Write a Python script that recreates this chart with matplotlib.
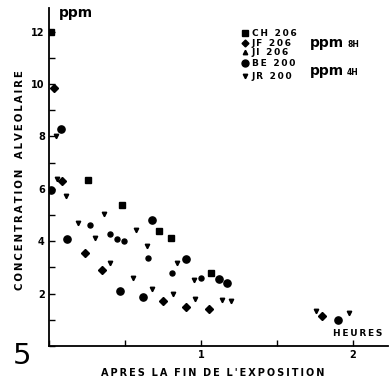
import matplotlib
matplotlib.use("Agg")
import matplotlib.pyplot as plt
from matplotlib.ticker import MultipleLocator

# data (hours after end of exposure, ppm)
ch_x = [0.01, 0.26, 0.48, 0.726, 0.80, 1.066]
ch_y = [12.0, 6.32, 5.39, 4.39, 4.11, 2.80]

jf_x = [0.03, 0.083, 0.237, 0.35, 0.748, 0.90, 1.05, 1.794]
jf_y = [9.85, 6.30, 3.54, 2.90, 1.73, 1.50, 1.40, 1.15]

ji_x = [0.27, 0.40, 0.445, 0.495, 0.653, 0.807, 1.0]
ji_y = [4.61, 4.28, 4.08, 3.99, 3.37, 2.78, 2.59]

be_x = [0.01, 0.077, 0.116, 0.467, 0.616, 0.675, 0.90, 1.118, 1.17, 1.90]
be_y = [5.96, 8.30, 4.09, 2.11, 1.88, 4.81, 3.32, 2.56, 2.40, 0.99]

jr_x = [0.046, 0.055, 0.11, 0.19, 0.30, 0.36, 0.40, 0.555, 0.57, 0.647, 0.68,
        0.818, 0.84, 0.956, 0.96, 1.136, 1.197, 1.757, 1.976]
jr_y = [8.0, 6.38, 5.73, 4.71, 4.12, 5.03, 3.16, 2.59, 4.43, 3.80, 2.16,
        1.99, 3.16, 2.52, 1.78, 1.76, 1.73, 1.34, 1.25]

legend_names = ["CH 206", "JF 206", "JI 206", "BE 200", "JR 200"]

def spaced(s):
    return "\u2009".join(s)

fig = plt.figure(figsize=(3.9, 3.85), dpi=100)
ax = fig.add_axes([0.1256, 0.1013, 0.869, 0.878])

series = [
    (ch_x, ch_y, "s", 4.3),
    (jf_x, jf_y, "D", 3.8),
    (ji_x, ji_y, "o", 3.6),
    (be_x, be_y, "o", 5.2),
    (jr_x, jr_y, "v", 3.2),
]
for xs, ys, m, ms in series:
    ax.plot(xs, ys, ls="none", marker=m, ms=ms, color="black", mec="black")

ax.set_xlim(0, 2.23)
ax.set_ylim(0, 12.9)
for s in ["top", "right"]:
    ax.spines[s].set_visible(False)
for s in ["left", "bottom"]:
    ax.spines[s].set_linewidth(1.3)

ax.xaxis.set_major_locator(MultipleLocator(1))
ax.xaxis.set_minor_locator(MultipleLocator(0.5))
ax.yaxis.set_major_locator(MultipleLocator(2))
ax.yaxis.set_minor_locator(MultipleLocator(1))
ax.tick_params(which="both", direction="in", width=1, length=4, labelsize=7, pad=3)
ax.set_xticks([1, 2])
ax.set_yticks([2, 4, 6, 8, 10, 12])
for lab in ax.get_xticklabels() + ax.get_yticklabels():
    lab.set_fontweight("bold")

ax.text(0.028, 0.985, "ppm", transform=ax.transAxes, fontsize=10, fontweight="bold",
        va="center", ha="left")
ax.text(0.91, 0.036, spaced("HEURES"), transform=ax.transAxes, fontsize=6.5,
        fontweight="bold", ha="center", va="center")

fig.text(0.052, 0.532, spaced("CONCENTRATION") + "   " + spaced("ALVEOLAIRE"),
         rotation=90, fontsize=7.3, fontweight="bold", ha="center", va="center")
fig.text(0.545, 0.031, spaced("APRES") + "  " + spaced("LA") + "  " + spaced("FIN")
         + "  " + spaced("DE") + "  " + spaced("L'EXPOSITION"),
         fontsize=7, fontweight="bold", ha="center", va="center")
fig.text(0.033, 0.075, "5", fontsize=21, ha="left", va="center")

# legend drawn by hand
leg_markers = [("s", 4.0), ("D", 3.5), ("^", 3.2), ("o", 5.0), ("v", 3.2)]
leg_y = [0.914, 0.888, 0.864, 0.836, 0.802]
for (m, ms), name, yy in zip(leg_markers, legend_names, leg_y):
    fig.lines.append(plt.Line2D([0.628], [yy], marker=m, ms=ms, color="black",
                                transform=fig.transFigure))
    fig.text(0.645, yy, spaced(name), fontsize=6.5, fontweight="bold", va="center")
fig.text(0.795, 0.889, "ppm", fontsize=10, fontweight="bold", va="center")
fig.text(0.89, 0.885, "8H", fontsize=5.5, fontweight="bold", va="center")
fig.text(0.795, 0.815, "ppm", fontsize=10, fontweight="bold", va="center")
fig.text(0.89, 0.811, "4H", fontsize=5.5, fontweight="bold", va="center")

fig.savefig("out.png", dpi=100)
